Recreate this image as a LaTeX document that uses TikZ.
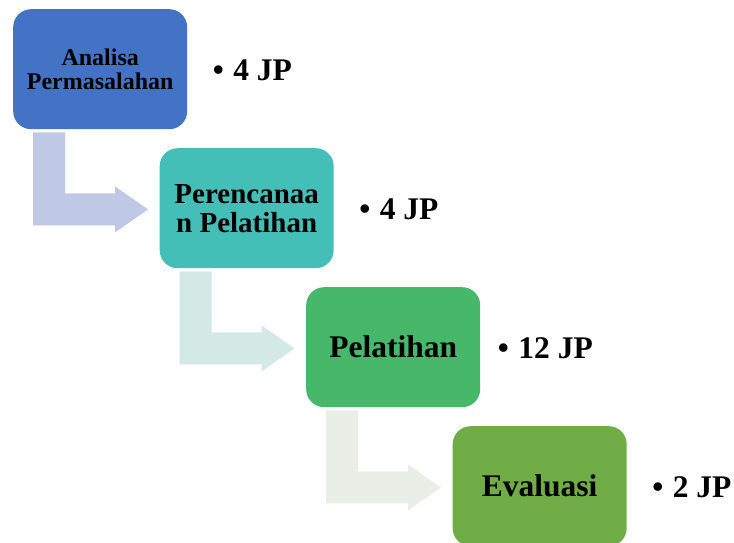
\documentclass[tikz,border=0pt]{standalone}
\usepackage{fontspec}
\setmainfont{Liberation Serif}
\usetikzlibrary{calc}
\definecolor{c1}{HTML}{4472C4}
\definecolor{c2}{HTML}{44BFB8}
\definecolor{c3}{HTML}{47B86A}
\definecolor{c4}{HTML}{70AD47}
\definecolor{a1}{HTML}{BFC9E6}
\definecolor{a2}{HTML}{D3EAE4}
\definecolor{a3}{HTML}{E9EFE6}
\newcommand\mybent[2]{%
  \fill[#2] ($(#1.south west)+(20,3)$) -- ++(32,0) -- ++(0,61) -- ++(50,0)
    -- ++(0,-7) -- ++(33,23) -- ++(-33,23) -- ++(0,-7) -- ++(-82,0) -- cycle;}
\begin{document}
\begin{tikzpicture}[x=1pt,y=-1pt,
  stepbox/.style={rounded corners=18pt, minimum width=174pt, minimum height=120pt,
    inner sep=0pt, anchor=north west, align=center, text=black},
  jp/.style={font=\fontsize{31.5}{34}\selectfont\bfseries, anchor=center, inner sep=0pt}]
\clip (0,0) rectangle (734,543);
\fill[white] (0,0) rectangle (734,543);
\node[stepbox, fill=c1, font=\fontsize{24}{23.5}\selectfont\bfseries] (b1) at (13,9) {Analisa\\Permasalahan};
\node[stepbox, fill=c2, font=\fontsize{29}{29}\selectfont\bfseries] (b2) at (159.5,148) {Perencanaa\\n Pelatihan};
\node[stepbox, fill=c3, font=\fontsize{31.5}{34}\selectfont\bfseries] (b3) at (306,287) {Pelatihan};
\node[stepbox, fill=c4, font=\fontsize{31.5}{34}\selectfont\bfseries] (b4) at (452.5,426) {Evaluasi};
\mybent{b1}{a1}
\mybent{b2}{a2}
\mybent{b3}{a3}
\node[jp] (l1) at ($(b1.east)+(65,1)$) {•\hspace{0.3em}4 JP};
\node[jp] (l2) at ($(b2.east)+(65,1)$) {•\hspace{0.3em}4 JP};
\node[jp] (l3) at ($(b3.east)+(65,1)$) {•\hspace{0.3em}12 JP};
\node[jp] (l4) at ($(b4.east)+(65,1)$) {•\hspace{0.3em}2 JP};
\end{tikzpicture}
\end{document}
